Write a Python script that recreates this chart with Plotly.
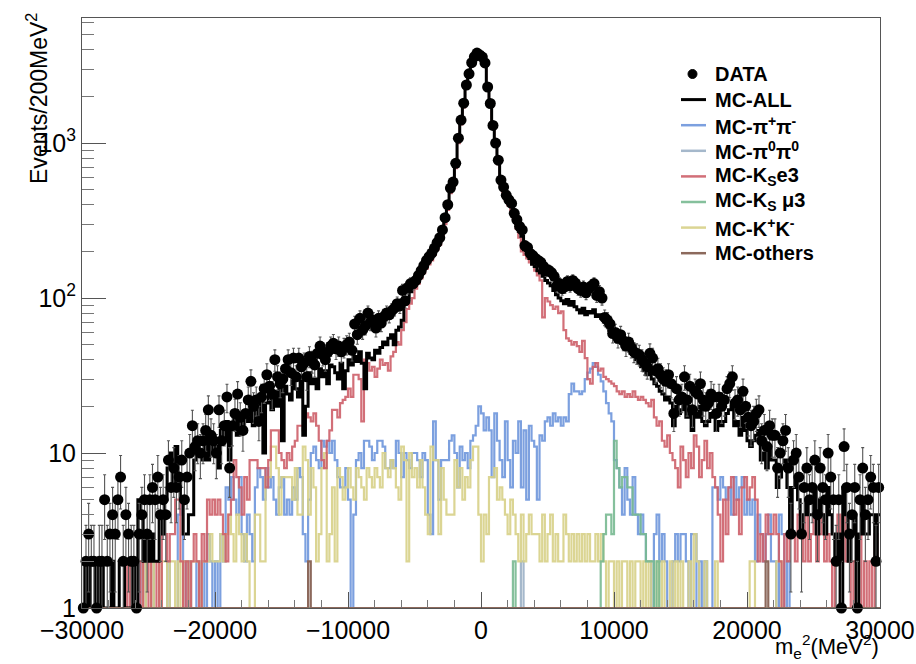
import numpy as np
import plotly.graph_objects as go

# ---------------- data (300 bins of 200 MeV^2 from -30000 to 30000) ----------------
x_min, x_max, bin_w = -30000, 30000, 200

data_counts = [
    1, 2, 3, 2, 2, 1, 2, 2, 5, 2,
    3, 4, 3, 5, 7, 2, 4, 3, 2, 2,
    1, 3, 4, 5, 3, 5, 6, 5, 7, 4,
    5, 4, 9, 6, 8, 6, 7, 9, 5, 7,
    10, 15, 11, 12, 10, 12, 14, 19, 13, 12,
    10, 19, 12, 15, 23, 8, 15, 18, 24, 17,
    14, 18, 22, 29, 20, 22, 16, 23, 26, 32,
    27, 24, 40, 31, 28, 30, 35, 40, 33, 41,
    31, 41, 36, 38, 31, 42, 39, 37, 44, 49,
    43, 40, 45, 49, 51, 47, 49, 45, 48, 50,
    52, 46, 68, 58, 74, 62, 66, 80, 70, 72,
    64, 74, 69, 76, 80, 78, 83, 86, 92, 89,
    112, 96, 117, 124, 124, 130, 140, 150, 162, 175,
    185, 195, 210, 228, 245, 275, 330, 400, 512, 560,
    740, 1076, 1407, 1810, 2370, 2800, 3300, 3600, 3810, 3700,
    3590, 3290, 2300, 1800, 1300, 1000, 776, 577, 520, 460,
    430, 408, 352, 320, 290, 275, 218, 212, 194, 188,
    180, 175, 170, 160, 150, 151, 146, 138, 120, 124,
    115, 118, 128, 120, 130, 125, 115, 112, 118, 108,
    115, 120, 124, 104, 110, 100, 75, 72, 68, 59,
    60, 55, 58, 53, 49, 52, 48, 45, 44, 43,
    40, 38, 36, 44, 41, 34, 35, 32, 30, 29,
    32, 28, 18, 26, 22, 23, 31, 22, 27, 19,
    25, 24, 28, 22, 20, 21, 24, 23, 18, 23,
    20, 22, 26, 28, 31, 21, 22, 19, 25, 20,
    17, 15, 16, 18, 19, 12, 14, 11, 15, 13,
    13, 8, 10, 12, 14, 8, 3, 9, 10, 7,
    3, 6, 8, 5, 6, 9, 4, 8, 6, 5,
    10, 7, 5, 2, 5, 1, 11, 6, 3, 4,
    6, 1, 5, 8, 4, 5, 7, 6, 2, 6,
]

mc_all = [
    2, 1, 2, 1, 1, 2, 1, 2, 1, 1,
    1, 2, 1, 1, 2, 2, 1, 1, 1, 2,
    1, 5, 4, 2, 3, 2, 3, 2, 2, 4,
    3, 5, 8, 10, 6, 11, 7, 5, 3, 3,
    4, 4, 9, 10, 10, 9, 12, 9, 13, 10,
    11, 8, 14, 12, 16, 9, 15, 17, 13, 18,
    14, 17, 16, 19, 15, 20, 17, 22, 10, 21,
    23, 19, 25, 20, 26, 12, 27, 24, 22, 29,
    26, 23, 30, 13, 20, 33, 28, 30, 26, 35,
    31, 34, 28, 37, 36, 33, 30, 38, 26, 34,
    40, 37, 42, 39, 45, 38, 26, 44, 41, 40,
    46, 44, 48, 52, 50, 55, 58, 50, 62, 65,
    72, 92, 100, 110, 118, 130, 140, 150, 160, 172,
    182, 192, 208, 225, 245, 272, 330, 400, 510, 560,
    740, 1070, 1400, 1800, 2350, 2800, 3300, 3600, 3800, 3650,
    3550, 3250, 2300, 1800, 1300, 1000, 770, 570, 510, 450,
    420, 395, 345, 305, 270, 250, 205, 195, 180, 165,
    160, 150, 145, 138, 130, 125, 120, 112, 105, 100,
    96, 92, 98, 90, 95, 88, 84, 80, 86, 78,
    82, 80, 84, 76, 78, 74, 70, 66, 62, 58,
    56, 52, 54, 49, 47, 48, 44, 42, 40, 38,
    36, 34, 32, 33, 30, 28, 27, 25, 24, 22,
    23, 21, 15, 20, 18, 19, 22, 17, 20, 14,
    18, 17, 20, 16, 15, 16, 18, 17, 14, 16,
    15, 16, 18, 19, 20, 15, 16, 13, 17, 14,
    12, 11, 12, 13, 14, 9, 10, 8, 11, 9,
    9, 6, 7, 8, 9, 6, 3, 6, 7, 5,
    3, 4, 5, 4, 4, 6, 3, 5, 4, 3,
    6, 4, 3, 2, 3, 1, 6, 4, 2, 3,
    4, 1, 3, 5, 3, 3, 4, 4, 2, 4,
]

mc_pipi = [
    0, 0, 0, 0, 0, 0, 0, 0, 0, 0,
    0, 0, 0, 0, 0, 0, 0, 0, 0, 0,
    1, 2, 1, 0, 2, 3, 2, 0, 1, 0,
    0, 1, 2, 1, 0, 1, 4, 5, 2, 1,
    2, 1, 0, 2, 1, 2, 1, 3, 2, 1,
    2, 1, 3, 2, 6, 5, 7, 5, 4, 7,
    3, 2, 4, 3, 2, 6, 8, 7, 5, 8,
    6, 7, 5, 4, 6, 7, 4, 5, 4, 6,
    5, 8, 7, 3, 2, 5, 10, 11, 9, 8,
    12, 11, 12, 10, 12, 9, 7, 6, 6, 8,
    5, 0, 4, 9, 10, 8, 12, 12, 11, 9,
    10, 12, 12, 11, 8, 8, 9, 8, 12, 10,
    7, 10, 9, 8, 10, 10, 9, 7, 10, 9,
    4, 3, 16, 9, 5, 9, 9, 9, 12, 13,
    10, 6, 11, 9, 10, 8, 12, 13, 15, 20,
    18, 14, 17, 14, 7, 18, 12, 9, 7, 16,
    9, 6, 12, 10, 16, 6, 14, 5, 15, 12,
    11, 5, 13, 12, 16, 17, 15, 18, 16, 17,
    15, 17, 16, 24, 28, 25, 25, 24, 25, 30,
    33, 35, 38, 36, 32, 29, 25, 21, 18, 16,
    9, 8, 6, 4, 8, 5, 4, 7, 4, 3,
    4, 3, 2, 2, 0, 3, 4, 2, 3, 2,
    0, 0, 2, 3, 2, 3, 3, 2, 1, 3,
    3, 1, 2, 0, 2, 1, 1, 6, 6, 5,
    7, 6, 5, 6, 4, 7, 5, 6, 7, 4,
    5, 4, 5, 2, 4, 3, 2, 3, 4, 2,
    2, 0, 4, 3, 0, 2, 0, 0, 0, 0,
    0, 0, 0, 0, 0, 0, 0, 0, 0, 0,
    0, 0, 0, 0, 0, 0, 0, 0, 0, 0,
    0, 0, 0, 0, 0, 0, 0, 0, 0, 0,
]

mc_pi0pi0 = [0] * 165 + [2] + [0] * 134

mc_ke3 = [
    0, 0, 0, 0, 0, 0, 0, 0, 0, 0,
    1, 2, 0, 1, 0, 1, 0, 2, 0, 1,
    1, 0, 2, 1, 0, 2, 1, 0, 2, 1,
    3, 3, 2, 3, 3, 5, 5, 2, 1, 2,
    1, 2, 3, 2, 1, 3, 2, 5, 4, 5,
    4, 5, 4, 3, 2, 4, 5, 9, 7, 6,
    4, 7, 5, 9, 9, 9, 8, 8, 8, 6,
    9, 14, 14, 14, 10, 9, 8, 10, 9, 11,
    12, 15, 15, 14, 18, 17, 16, 18, 15, 12,
    9, 8, 12, 14, 19, 19, 17, 21, 22, 23,
    26, 23, 32, 32, 30, 16, 40, 38, 34, 36,
    31, 35, 40, 37, 38, 34, 42, 45, 52, 50,
    62, 70, 85, 92, 100, 115, 124, 134, 145, 155,
    165, 175, 190, 205, 220, 250, 300, 370, 475, 520,
    690, 1000, 1320, 1700, 2250, 2700, 3150, 3450, 3650, 3520,
    3420, 3120, 2200, 1720, 1240, 950, 730, 540, 480, 425,
    395, 370, 320, 280, 245, 200, 190, 180, 170, 165,
    150, 140, 130, 75, 100, 95, 90, 85, 88, 80,
    82, 62, 55, 53, 50, 52, 49, 45, 53, 41,
    30, 28, 36, 38, 34, 35, 31, 30, 29, 28,
    27, 25, 24, 25, 23, 24, 23, 25, 23, 22,
    23, 22, 21, 20, 22, 17, 15, 16, 12, 11,
    13, 10, 9, 8, 6, 11, 9, 7, 10, 8,
    13, 11, 7, 9, 12, 8, 10, 7, 6, 4,
    2, 5, 3, 6, 7, 4, 5, 3, 6, 7,
    5, 6, 7, 5, 2, 3, 2, 4, 3, 3,
    4, 3, 2, 1, 3, 2, 4, 3, 2, 4,
    3, 2, 4, 2, 3, 4, 2, 3, 4, 2,
    3, 2, 1, 2, 4, 3, 4, 2, 3, 1,
    2, 1, 3, 0, 2, 1, 2, 0, 3, 2,
]

mc_kmu3 = ([0] * 162 + [2] + [0] * 27 +
           [0, 0, 0, 1, 0, 2, 3, 4, 4, 3,
            12, 8, 6, 7, 7, 6, 6, 4, 4, 4,
            3, 3, 2, 2, 2, 1, 2] + [0] * 83)

mc_kk = [
    0, 0, 0, 0, 0, 0, 0, 0, 0, 0,
    0, 0, 0, 0, 0, 0, 0, 0, 0, 0,
    1, 2, 2, 1, 2, 2, 1, 2, 2, 0,
    2, 2, 1, 2, 2, 0, 2, 1, 2, 2,
    1, 2, 2, 2, 1, 2, 2, 2, 3, 2,
    2, 2, 3, 2, 3, 4, 3, 2, 4, 3,
    2, 3, 2, 1, 1, 4, 4, 2, 2, 7,
    7, 11, 11, 8, 4, 7, 7, 7, 7, 5,
    8, 4, 4, 11, 9, 4, 8, 6, 2, 3,
    8, 10, 2, 3, 6, 2, 8, 7, 5, 6,
    8, 6, 5, 8, 7, 6, 5, 8, 7, 6,
    8, 7, 6, 10, 8, 7, 9, 8, 6, 5,
    11, 9, 2, 10, 7, 8, 6, 9, 6, 4,
    3, 11, 9, 9, 3, 8, 5, 4, 4, 4,
    9, 6, 8, 5, 7, 6, 9, 11, 11, 4,
    2, 4, 3, 7, 7, 8, 5, 6, 5, 4,
    3, 5, 4, 3, 2, 4, 2, 3, 4, 3,
    3, 3, 2, 4, 2, 3, 4, 2, 3, 2,
    2, 4, 3, 2, 3, 2, 3, 2, 3, 2,
    3, 2, 2, 3, 2, 3, 2, 1, 2, 2,
    1, 2, 1, 2, 2, 1, 2, 1, 2, 2,
    1, 2, 1, 2, 1, 1, 2, 1, 2, 1,
    1, 2, 1, 2, 1, 2, 0, 1, 2, 1,
    3, 2, 1, 0, 2, 1, 1, 0, 2, 1,
    1, 0, 0, 1, 0, 1, 0, 0, 1, 0,
    0, 2, 2, 1, 0, 0, 0, 0, 0, 0,
    0, 2, 2, 0, 0, 0, 0, 0, 0, 0,
    0, 0, 0, 0, 0, 0, 0, 0, 0, 0,
    0, 0, 0, 0, 0, 0, 0, 0, 0, 0,
    0, 0, 0, 0, 0, 0, 0, 0, 0, 0,
]

mc_others = [0] * 85 + [2] + [0] * 171 + [2] + [0] * 42

legend_names = ["DATA", "MC-ALL", "MC-π<sup>+</sup>π<sup>-</sup>", "MC-π<sup>0</sup>π<sup>0</sup>",
                "MC-K<sub>S</sub>e3", "MC-K<sub>S</sub> μ3", "MC-K<sup>+</sup>K<sup>-</sup>", "MC-others"]
x_tick_vals = [-30000, -20000, -10000, 0, 10000, 20000, 30000]
x_tick_text = ["−30000", "−20000", "−10000", "0", "10000", "20000", "30000"]
y_tick_vals = [1, 10, 100, 1000]
y_tick_text = ["1", "10", "10<sup>2</sup>", "10<sup>3</sup>"]

for arr in (data_counts, mc_all, mc_pipi, mc_pi0pi0, mc_ke3, mc_kmu3, mc_kk, mc_others):
    assert len(arr) == 300, len(arr)

# ---------------- styling ----------------
C_DATA = "black"
C_ALL = "black"
C_PIPI = "rgba(110,150,220,0.9)"
C_PI0 = "rgba(160,180,200,0.95)"
C_KE3 = "rgba(205,95,105,0.9)"
C_KMU3 = "rgba(120,185,145,0.9)"
C_KK = "rgba(215,208,135,0.9)"
C_OTH = "rgba(140,105,92,1)"

W, H = 916, 664
ML, MR, MT, MB = 82, 36, 18, 56
PW, PH = W - ML - MR, H - MT - MB


def px2paper(px, py):
    return (px - ML) / PW, 1 - (py - MT) / PH


# ---------------- figure ----------------
edges = np.arange(x_min, x_max + bin_w, bin_w)
centers = edges[:-1] + bin_w / 2
Y_FLOOR = 1.0


def step_trace(vals, name, color, width):
    v = np.maximum(np.asarray(vals, dtype=float), Y_FLOOR)
    y = np.append(v, v[-1])
    return go.Scatter(x=edges, y=y, mode="lines", line=dict(color=color, width=width, shape="hv"),
                      name=name, showlegend=False)


fig = go.Figure()
fig.add_trace(step_trace(mc_pipi, legend_names[2], C_PIPI, 2.2))
fig.add_trace(step_trace(mc_pi0pi0, legend_names[3], C_PI0, 2.2))
fig.add_trace(step_trace(mc_kk, legend_names[6], C_KK, 2.2))
fig.add_trace(step_trace(mc_ke3, legend_names[4], C_KE3, 2.2))
fig.add_trace(step_trace(mc_kmu3, legend_names[5], C_KMU3, 2.2))
fig.add_trace(step_trace(mc_all, legend_names[1], C_ALL, 3))
fig.add_trace(step_trace(mc_others, legend_names[7], C_OTH, 2.2))

n = np.asarray(data_counts, dtype=float)
mask = n > 0
err_up = np.sqrt(n[mask])
err_lo = np.minimum(np.sqrt(n[mask]), n[mask] - Y_FLOOR)
fig.add_trace(go.Scatter(
    x=centers[mask], y=n[mask], mode="markers", name=legend_names[0], showlegend=False,
    marker=dict(color=C_DATA, size=11, symbol="circle"),
    error_y=dict(type="data", symmetric=False, array=err_up, arrayminus=err_lo,
                 color="#555555", thickness=1.1, width=1.5),
    cliponaxis=False,
))

FONT = "Liberation Sans, Arial, Helvetica, sans-serif"
axis_font = dict(family=FONT, size=25, color="black")

# ---------------- hand-placed legend (ROOT TLegend look) ----------------
legend_colors = [C_DATA, C_ALL, C_PIPI, C_PI0, C_KE3, C_KMU3, C_KK, C_OTH]
shapes, annotations = [], []
for k, (name, col) in enumerate(zip(legend_names, legend_colors)):
    py = 74 + 25.6 * k
    tx, ty = px2paper(713, py)
    annotations.append(dict(text="<b>%s</b>" % name, xref="paper", yref="paper", x=tx, y=ty,
                            xanchor="left", yanchor="middle", showarrow=False,
                            font=dict(family=FONT, size=20, color="black")))
    if k == 0:
        x0, y0 = px2paper(688, py - 4.5)
        x1, y1 = px2paper(697, py + 4.5)
        shapes.append(dict(type="circle", xref="paper", yref="paper", x0=x0, y0=y1, x1=x1, y1=y0,
                           fillcolor="black", line=dict(color="black", width=1)))
    else:
        x0, y0 = px2paper(681, py)
        x1, _ = px2paper(706, py)
        shapes.append(dict(type="line", xref="paper", yref="paper", x0=x0, y0=y0, x1=x1, y1=y0,
                           line=dict(color=col, width=3 if k == 1 else 2.5)))

yt_x, yt_y = px2paper(37, 99)
annotations.append(dict(text="Events/200MeV<sup>2</sup>", xref="paper", yref="paper",
                        x=yt_x, y=yt_y, xanchor="center", yanchor="middle", textangle=-90,
                        showarrow=False, font=dict(family=FONT, size=23, color="black")))
xt_x, xt_y = px2paper(881, 664)
annotations.append(dict(text="m<sub>e</sub><sup>2</sup>(MeV<sup>2</sup>)", xref="paper", yref="paper",
                        x=xt_x, y=xt_y, xanchor="right", yanchor="bottom",
                        showarrow=False, font=dict(family=FONT, size=22, color="black")))

fig.update_layout(
    width=W, height=H,
    margin=dict(l=ML, r=MR, t=MT, b=MB, autoexpand=False),
    paper_bgcolor="white", plot_bgcolor="white",
    showlegend=False,
    xaxis=dict(range=[x_min, x_max], showgrid=False, zeroline=False, automargin=False,
               showline=True, linecolor="#555555", linewidth=1, mirror=True,
               ticks="inside", ticklen=16, tickcolor="#555555",
               tickvals=x_tick_vals, ticktext=x_tick_text, tickfont=axis_font,
               minor=dict(ticks="inside", ticklen=8, dtick=2000, tickcolor="#777777", showgrid=False)),
    yaxis=dict(type="log", range=[0, 3.807], showgrid=False, zeroline=False, automargin=False,
               showline=True, linecolor="#555555", linewidth=1, mirror=True,
               ticks="inside", ticklen=24, tickcolor="#555555",
               tickvals=y_tick_vals, ticktext=y_tick_text, tickfont=axis_font,
               minor=dict(ticks="inside", ticklen=12, dtick="D1", tickcolor="#777777", showgrid=False)),
    shapes=shapes,
    annotations=annotations,
)

fig.write_html("out.html")
